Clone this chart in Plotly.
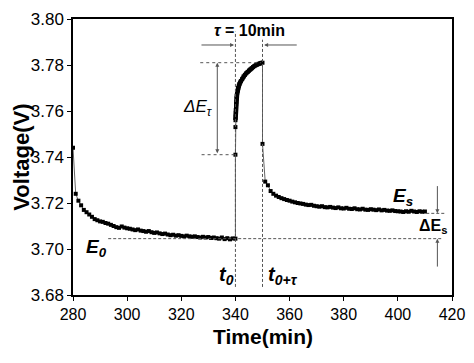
import plotly.graph_objects as go

# ---- data ----
rest_t = list(range(280, 341))
rest_v = [3.744, 3.724, 3.721, 3.719, 3.717, 3.716, 3.715, 3.714, 3.713, 3.7125,
          3.712, 3.7118, 3.7113, 3.711, 3.7105, 3.710, 3.7095, 3.7092, 3.7098, 3.7093,
          3.709, 3.7088, 3.7085, 3.7082, 3.7085, 3.708, 3.7078, 3.7075, 3.7078, 3.7073,
          3.707, 3.7072, 3.7068, 3.7065, 3.7067, 3.7063, 3.706, 3.7062, 3.7058, 3.706,
          3.7057, 3.7055, 3.7058, 3.7055, 3.7053, 3.7055, 3.7052, 3.705, 3.7053, 3.705,
          3.7052, 3.7048, 3.705, 3.7047, 3.7045, 3.705, 3.7043, 3.7047, 3.7042, 3.7046,
          3.7045]

pulse_t = [340.0, 340.0, 340.02, 340.05, 340.1, 340.15, 340.2, 340.25, 340.3, 340.4,
           340.5, 340.6, 340.7, 340.8, 340.9, 341.0, 341.25, 341.5, 341.75, 342.0,
           342.5, 343.0, 343.5, 344.0, 344.5, 345.0, 345.5, 346.0, 346.5, 347.0,
           347.5, 348.0, 348.5, 349.0, 349.5, 350.0]
pulse_v = [3.741, 3.753, 3.756, 3.7575, 3.759, 3.7605, 3.762, 3.763, 3.764, 3.7655,
           3.7665, 3.7675, 3.768, 3.7688, 3.7694, 3.770, 3.771, 3.7718, 3.7724, 3.773,
           3.774, 3.775, 3.7757, 3.7764, 3.777, 3.7776, 3.7781, 3.7786, 3.7791, 3.7795,
           3.7799, 3.7802, 3.7805, 3.7807, 3.7809, 3.781]

relax_t = [350.0] + list(range(351, 411))
relax_v = [3.7457, 3.7293, 3.7277, 3.7252, 3.7240, 3.7232, 3.7226, 3.7221, 3.7217, 3.7213,
           3.7210, 3.7206, 3.7203, 3.7200, 3.7198, 3.7196, 3.7193, 3.7191, 3.7192, 3.7188,
           3.7186, 3.7184, 3.7186, 3.7182, 3.7181, 3.7183, 3.7180, 3.7178, 3.7181, 3.7177,
           3.7176, 3.7179, 3.7175, 3.7174, 3.7177, 3.7173, 3.7172, 3.7175, 3.7171, 3.7170,
           3.7173, 3.7171, 3.7169, 3.7172, 3.7168, 3.7170, 3.7167, 3.7166, 3.7168, 3.7165,
           3.7164, 3.7163, 3.7161, 3.7164, 3.7162, 3.7166, 3.7163, 3.7161, 3.7164, 3.7162,
           3.7163]

x_ticks = [280, 300, 320, 340, 360, 380, 400, 420]
y_ticks = [3.68, 3.70, 3.72, 3.74, 3.76, 3.78, 3.80]

# annotation reference values
t0 = 340
tau = 10
E0 = 3.7045
Es = 3.7155
E_top = 3.781
E_bot = 3.741

all_t = rest_t + pulse_t + relax_t
all_v = rest_v + pulse_v + relax_v

FONT = "Liberation Sans, Arial"

fig = go.Figure()
fig.add_trace(go.Scatter(
    x=all_t, y=all_v, mode="lines+markers",
    line=dict(color="#666666", width=1),
    marker=dict(symbol="square", size=4, color="black"),
    showlegend=False, hoverinfo="skip"))
fig.add_trace(go.Scatter(
    x=pulse_t[2:], y=pulse_v[2:], mode="lines",
    line=dict(color="black", width=4.5),
    showlegend=False, hoverinfo="skip"))

gray = "#555555"
shapes = [
    dict(type="line", x0=t0, x1=t0, y0=3.6835, y1=3.7945, line=dict(color=gray, width=1, dash="3px,2px")),
    dict(type="line", x0=t0 + tau, x1=t0 + tau, y0=3.6835, y1=3.791, line=dict(color=gray, width=1, dash="3px,2px")),
    dict(type="line", x0=293, x1=416.5, y0=E0, y1=E0, line=dict(color=gray, width=1, dash="3px,2px")),
    dict(type="line", x0=410.5, x1=417.5, y0=Es, y1=Es, line=dict(color=gray, width=1, dash="3px,2px")),
    dict(type="line", x0=327, x1=349.5, y0=E_top, y1=E_top, line=dict(color=gray, width=1, dash="dot")),
    dict(type="line", x0=327.5, x1=340, y0=E_bot, y1=E_bot, line=dict(color=gray, width=1, dash="dot")),
]
for s in shapes:
    s["xref"] = "x"
    s["yref"] = "y"
fig.update_layout(shapes=shapes)

def arrow(x, y, ax, ay, side="end"):
    fig.add_annotation(x=x, y=y, ax=ax, ay=ay, xref="x", yref="y", axref="x", ayref="y",
                       showarrow=True, arrowhead=2, arrowsize=0.8, arrowwidth=1,
                       arrowcolor=gray, arrowside=side, text="", standoff=0, startstandoff=0)

arrow(339.5, 3.7887, 326.9, 3.7887)
arrow(350.6, 3.7887, 363.2, 3.7887)
arrow(333.3, E_top, 333.3, E_bot, side="end+start")
arrow(414.6, Es, 414.6, 3.728)
arrow(414.6, E0, 414.6, 3.6917)

def label(x, y, text, size, xanchor="center"):
    fig.add_annotation(x=x, y=y, xref="x", yref="y", text=text, showarrow=False,
                       xanchor=xanchor, yanchor="middle",
                       font=dict(family=FONT, size=size, color="black"))

label(345.3, 3.7948, "<b><i>τ</i> = 10min</b>", 16)
label(332.3, 3.7615, "<i>ΔE<sub>τ</sub></i>", 17, xanchor="right")
label(402.0, 3.7228, "<b><i>E<sub>s</sub></i></b>", 19)
label(413.0, 3.7098, "<b>ΔE<sub>s</sub></b>", 16)
label(288.5, 3.7003, "<b><i>E<sub>0</sub></i></b>", 19)
label(336.8, 3.6885, "<b><i>t<sub>0</sub></i></b>", 20)
label(357.5, 3.6885, "<b><i>t<sub>0+τ</sub></i></b>", 20)

# axis titles as paper-anchored annotations
fig.add_annotation(x=0.5, y=-0.1486, xref="paper", yref="paper", text="<b>Time(min)</b>",
                   showarrow=False, xanchor="center", yanchor="middle",
                   font=dict(family=FONT, size=21, color="black"))
fig.add_annotation(x=-0.138, y=0.5, xref="paper", yref="paper", text="<b>Voltage(V)</b>",
                   showarrow=False, xanchor="center", yanchor="middle", textangle=-90,
                   font=dict(family=FONT, size=22, color="black"))

axis_common = dict(showline=True, linecolor="black", linewidth=1.5, mirror=True,
                   ticks="outside", ticklen=4, tickwidth=1.2, tickcolor="black",
                   showgrid=False, zeroline=False, automargin=False)

fig.update_xaxes(range=[280, 420], tickvals=x_ticks, ticktext=[str(v) for v in x_ticks],
                 tickfont=dict(family=FONT, size=16, color="black"),
                 **axis_common)
fig.update_yaxes(range=[3.68, 3.80], tickvals=y_ticks, ticktext=[f"{v:.2f}" for v in y_ticks],
                 tickfont=dict(family=FONT, size=17, color="black"),
                 **axis_common)

# page body has an 8px default margin, so the figure is sized/offset to compensate
fig.update_layout(width=466, height=355, margin=dict(l=65, r=22, t=11, b=68),
                  plot_bgcolor="white", paper_bgcolor="white")

fig.write_html("out.html")
